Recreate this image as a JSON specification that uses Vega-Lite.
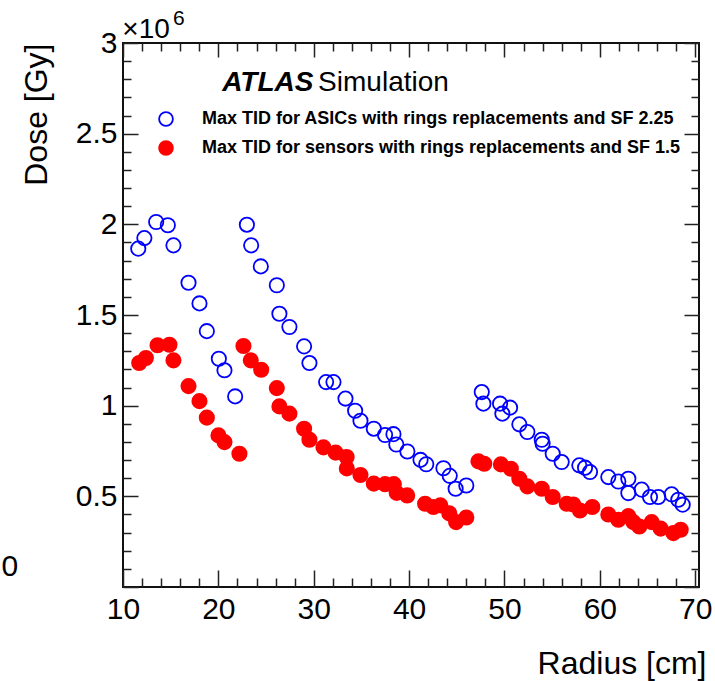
{
  "$schema": "https://vega.github.io/schema/vega-lite/v6.json",
  "autosize": {"type": "none"},
  "width": 576,
  "height": 544,
  "padding": {"left": 123, "top": 43, "right": 16, "bottom": 94},
  "background": "white",
  "config": {
    "view": {"stroke": "#111", "strokeWidth": 2},
    "font": "Liberation Sans",
    "axis": {"labelFont": "Liberation Sans", "titleFont": "Liberation Sans", "labelColor": "#000", "titleColor": "#000", "tickColor": "#222", "tickWidth": 1.5, "grid": false, "domain": false, "labelFlush": false, "labelOverlap": false},
    "legend": {"labelFont": "Liberation Sans"}
  },
  "resolve": {"axis": {"x": "independent", "y": "independent"}},
  "layer": [
    {
      "data": {"values": [
        {"series": "Max TID for ASICs with rings replacements and SF 2.25", "r": 11.6, "dose": 1866000},
        {"series": "Max TID for ASICs with rings replacements and SF 2.25", "r": 12.24, "dose": 1924000},
        {"series": "Max TID for ASICs with rings replacements and SF 2.25", "r": 13.48, "dose": 2013000},
        {"series": "Max TID for ASICs with rings replacements and SF 2.25", "r": 14.7, "dose": 1995000},
        {"series": "Max TID for ASICs with rings replacements and SF 2.25", "r": 15.29, "dose": 1884000},
        {"series": "Max TID for ASICs with rings replacements and SF 2.25", "r": 16.87, "dose": 1678000},
        {"series": "Max TID for ASICs with rings replacements and SF 2.25", "r": 18.02, "dose": 1564000},
        {"series": "Max TID for ASICs with rings replacements and SF 2.25", "r": 18.79, "dose": 1411000},
        {"series": "Max TID for ASICs with rings replacements and SF 2.25", "r": 20.05, "dose": 1259000},
        {"series": "Max TID for ASICs with rings replacements and SF 2.25", "r": 20.64, "dose": 1195000},
        {"series": "Max TID for ASICs with rings replacements and SF 2.25", "r": 21.76, "dose": 1051000},
        {"series": "Max TID for ASICs with rings replacements and SF 2.25", "r": 22.99, "dose": 1998000},
        {"series": "Max TID for ASICs with rings replacements and SF 2.25", "r": 23.44, "dose": 1884000},
        {"series": "Max TID for ASICs with rings replacements and SF 2.25", "r": 24.45, "dose": 1768000},
        {"series": "Max TID for ASICs with rings replacements and SF 2.25", "r": 26.13, "dose": 1664000},
        {"series": "Max TID for ASICs with rings replacements and SF 2.25", "r": 26.4, "dose": 1507000},
        {"series": "Max TID for ASICs with rings replacements and SF 2.25", "r": 27.45, "dose": 1434000},
        {"series": "Max TID for ASICs with rings replacements and SF 2.25", "r": 28.99, "dose": 1327000},
        {"series": "Max TID for ASICs with rings replacements and SF 2.25", "r": 29.55, "dose": 1235000},
        {"series": "Max TID for ASICs with rings replacements and SF 2.25", "r": 31.3, "dose": 1130000},
        {"series": "Max TID for ASICs with rings replacements and SF 2.25", "r": 32.07, "dose": 1130000},
        {"series": "Max TID for ASICs with rings replacements and SF 2.25", "r": 33.33, "dose": 1039000},
        {"series": "Max TID for ASICs with rings replacements and SF 2.25", "r": 34.34, "dose": 972000},
        {"series": "Max TID for ASICs with rings replacements and SF 2.25", "r": 34.9, "dose": 917000},
        {"series": "Max TID for ASICs with rings replacements and SF 2.25", "r": 36.3, "dose": 873000},
        {"series": "Max TID for ASICs with rings replacements and SF 2.25", "r": 37.48, "dose": 838000},
        {"series": "Max TID for ASICs with rings replacements and SF 2.25", "r": 38.36, "dose": 843000},
        {"series": "Max TID for ASICs with rings replacements and SF 2.25", "r": 38.66, "dose": 786000},
        {"series": "Max TID for ASICs with rings replacements and SF 2.25", "r": 39.82, "dose": 747000},
        {"series": "Max TID for ASICs with rings replacements and SF 2.25", "r": 41.2, "dose": 701000},
        {"series": "Max TID for ASICs with rings replacements and SF 2.25", "r": 41.8, "dose": 677000},
        {"series": "Max TID for ASICs with rings replacements and SF 2.25", "r": 43.6, "dose": 655000},
        {"series": "Max TID for ASICs with rings replacements and SF 2.25", "r": 44.26, "dose": 613000},
        {"series": "Max TID for ASICs with rings replacements and SF 2.25", "r": 44.88, "dose": 542000},
        {"series": "Max TID for ASICs with rings replacements and SF 2.25", "r": 46.0, "dose": 560000},
        {"series": "Max TID for ASICs with rings replacements and SF 2.25", "r": 47.62, "dose": 1075000},
        {"series": "Max TID for ASICs with rings replacements and SF 2.25", "r": 47.79, "dose": 1011000},
        {"series": "Max TID for ASICs with rings replacements and SF 2.25", "r": 49.54, "dose": 1011000},
        {"series": "Max TID for ASICs with rings replacements and SF 2.25", "r": 49.78, "dose": 956000},
        {"series": "Max TID for ASICs with rings replacements and SF 2.25", "r": 50.59, "dose": 989000},
        {"series": "Max TID for ASICs with rings replacements and SF 2.25", "r": 51.56, "dose": 897000},
        {"series": "Max TID for ASICs with rings replacements and SF 2.25", "r": 52.4, "dose": 855000},
        {"series": "Max TID for ASICs with rings replacements and SF 2.25", "r": 53.91, "dose": 812000},
        {"series": "Max TID for ASICs with rings replacements and SF 2.25", "r": 54.0, "dose": 790000},
        {"series": "Max TID for ASICs with rings replacements and SF 2.25", "r": 55.06, "dose": 735000},
        {"series": "Max TID for ASICs with rings replacements and SF 2.25", "r": 56.0, "dose": 689000},
        {"series": "Max TID for ASICs with rings replacements and SF 2.25", "r": 57.85, "dose": 671000},
        {"series": "Max TID for ASICs with rings replacements and SF 2.25", "r": 58.45, "dose": 658000},
        {"series": "Max TID for ASICs with rings replacements and SF 2.25", "r": 58.97, "dose": 634000},
        {"series": "Max TID for ASICs with rings replacements and SF 2.25", "r": 60.89, "dose": 606000},
        {"series": "Max TID for ASICs with rings replacements and SF 2.25", "r": 61.94, "dose": 582000},
        {"series": "Max TID for ASICs with rings replacements and SF 2.25", "r": 62.99, "dose": 597000},
        {"series": "Max TID for ASICs with rings replacements and SF 2.25", "r": 62.99, "dose": 518000},
        {"series": "Max TID for ASICs with rings replacements and SF 2.25", "r": 64.39, "dose": 537000},
        {"series": "Max TID for ASICs with rings replacements and SF 2.25", "r": 65.26, "dose": 496000},
        {"series": "Max TID for ASICs with rings replacements and SF 2.25", "r": 66.13, "dose": 496000},
        {"series": "Max TID for ASICs with rings replacements and SF 2.25", "r": 67.53, "dose": 511000},
        {"series": "Max TID for ASICs with rings replacements and SF 2.25", "r": 68.23, "dose": 481000},
        {"series": "Max TID for ASICs with rings replacements and SF 2.25", "r": 68.69, "dose": 454000},
        {"series": "Max TID for sensors with rings replacements and SF 1.5", "r": 11.7, "dose": 1235000},
        {"series": "Max TID for sensors with rings replacements and SF 1.5", "r": 12.4, "dose": 1263000},
        {"series": "Max TID for sensors with rings replacements and SF 1.5", "r": 13.62, "dose": 1333000},
        {"series": "Max TID for sensors with rings replacements and SF 1.5", "r": 14.87, "dose": 1336000},
        {"series": "Max TID for sensors with rings replacements and SF 1.5", "r": 15.29, "dose": 1250000},
        {"series": "Max TID for sensors with rings replacements and SF 1.5", "r": 16.87, "dose": 1108000},
        {"series": "Max TID for sensors with rings replacements and SF 1.5", "r": 18.02, "dose": 1025000},
        {"series": "Max TID for sensors with rings replacements and SF 1.5", "r": 18.79, "dose": 934000},
        {"series": "Max TID for sensors with rings replacements and SF 1.5", "r": 20.01, "dose": 836000},
        {"series": "Max TID for sensors with rings replacements and SF 1.5", "r": 20.64, "dose": 799000},
        {"series": "Max TID for sensors with rings replacements and SF 1.5", "r": 22.21, "dose": 735000},
        {"series": "Max TID for sensors with rings replacements and SF 1.5", "r": 22.63, "dose": 1329000},
        {"series": "Max TID for sensors with rings replacements and SF 1.5", "r": 23.4, "dose": 1250000},
        {"series": "Max TID for sensors with rings replacements and SF 1.5", "r": 24.49, "dose": 1198000},
        {"series": "Max TID for sensors with rings replacements and SF 1.5", "r": 26.13, "dose": 1097000},
        {"series": "Max TID for sensors with rings replacements and SF 1.5", "r": 26.4, "dose": 996000},
        {"series": "Max TID for sensors with rings replacements and SF 1.5", "r": 27.45, "dose": 956000},
        {"series": "Max TID for sensors with rings replacements and SF 1.5", "r": 28.99, "dose": 873000},
        {"series": "Max TID for sensors with rings replacements and SF 1.5", "r": 29.55, "dose": 812000},
        {"series": "Max TID for sensors with rings replacements and SF 1.5", "r": 31.02, "dose": 770000},
        {"series": "Max TID for sensors with rings replacements and SF 1.5", "r": 32.3, "dose": 741000},
        {"series": "Max TID for sensors with rings replacements and SF 1.5", "r": 33.45, "dose": 717000},
        {"series": "Max TID for sensors with rings replacements and SF 1.5", "r": 33.47, "dose": 654000},
        {"series": "Max TID for sensors with rings replacements and SF 1.5", "r": 34.9, "dose": 618000},
        {"series": "Max TID for sensors with rings replacements and SF 1.5", "r": 36.3, "dose": 570000},
        {"series": "Max TID for sensors with rings replacements and SF 1.5", "r": 37.48, "dose": 567000},
        {"series": "Max TID for sensors with rings replacements and SF 1.5", "r": 38.4, "dose": 567000},
        {"series": "Max TID for sensors with rings replacements and SF 1.5", "r": 38.7, "dose": 519000},
        {"series": "Max TID for sensors with rings replacements and SF 1.5", "r": 39.8, "dose": 505000},
        {"series": "Max TID for sensors with rings replacements and SF 1.5", "r": 41.68, "dose": 459000},
        {"series": "Max TID for sensors with rings replacements and SF 1.5", "r": 42.55, "dose": 441000},
        {"series": "Max TID for sensors with rings replacements and SF 1.5", "r": 43.28, "dose": 450000},
        {"series": "Max TID for sensors with rings replacements and SF 1.5", "r": 44.22, "dose": 406000},
        {"series": "Max TID for sensors with rings replacements and SF 1.5", "r": 44.93, "dose": 358000},
        {"series": "Max TID for sensors with rings replacements and SF 1.5", "r": 46.0, "dose": 383000},
        {"series": "Max TID for sensors with rings replacements and SF 1.5", "r": 47.27, "dose": 693000},
        {"series": "Max TID for sensors with rings replacements and SF 1.5", "r": 47.88, "dose": 680000},
        {"series": "Max TID for sensors with rings replacements and SF 1.5", "r": 49.63, "dose": 676000},
        {"series": "Max TID for sensors with rings replacements and SF 1.5", "r": 50.67, "dose": 652000},
        {"series": "Max TID for sensors with rings replacements and SF 1.5", "r": 51.56, "dose": 597000},
        {"series": "Max TID for sensors with rings replacements and SF 1.5", "r": 52.4, "dose": 555000},
        {"series": "Max TID for sensors with rings replacements and SF 1.5", "r": 53.91, "dose": 542000},
        {"series": "Max TID for sensors with rings replacements and SF 1.5", "r": 55.06, "dose": 496000},
        {"series": "Max TID for sensors with rings replacements and SF 1.5", "r": 56.53, "dose": 459000},
        {"series": "Max TID for sensors with rings replacements and SF 1.5", "r": 57.22, "dose": 455000},
        {"series": "Max TID for sensors with rings replacements and SF 1.5", "r": 57.92, "dose": 422000},
        {"series": "Max TID for sensors with rings replacements and SF 1.5", "r": 59.21, "dose": 441000},
        {"series": "Max TID for sensors with rings replacements and SF 1.5", "r": 60.89, "dose": 400000},
        {"series": "Max TID for sensors with rings replacements and SF 1.5", "r": 61.94, "dose": 371000},
        {"series": "Max TID for sensors with rings replacements and SF 1.5", "r": 62.99, "dose": 391000},
        {"series": "Max TID for sensors with rings replacements and SF 1.5", "r": 63.51, "dose": 358000},
        {"series": "Max TID for sensors with rings replacements and SF 1.5", "r": 64.14, "dose": 334000},
        {"series": "Max TID for sensors with rings replacements and SF 1.5", "r": 65.44, "dose": 358000},
        {"series": "Max TID for sensors with rings replacements and SF 1.5", "r": 66.38, "dose": 322000},
        {"series": "Max TID for sensors with rings replacements and SF 1.5", "r": 67.71, "dose": 297000},
        {"series": "Max TID for sensors with rings replacements and SF 1.5", "r": 68.48, "dose": 316000}
      ]},
      "mark": {"type": "point", "shape": "circle", "filled": true, "size": 205, "strokeWidth": 1.8, "opacity": 1},
      "encoding": {
        "x": {"field": "r", "type": "quantitative", "scale": {"domain": [10, 70.4], "nice": false, "zero": false},
          "axis": {"orient": "bottom", "values": [10, 20, 30, 40, 50, 60, 70], "ticks": false, "labelFontSize": 30, "labelPadding": 7,
            "title": "Radius [cm]", "titleFontSize": 32, "titleFontWeight": "normal", "titleX": 583, "titleY": 86, "titleAlign": "right", "titleBaseline": "alphabetic", "titleAnchor": "end"}},
        "y": {"field": "dose", "type": "quantitative", "scale": {"domain": [0, 3000000], "nice": false, "zero": false},
          "axis": {"orient": "left", "values": [500000, 1000000, 1500000, 2000000, 2500000, 3000000], "labelExpr": "'' + (datum.value / 1000000)", "ticks": false, "labelFontSize": 30, "labelPadding": 6,
            "title": "Dose [Gy]", "titleFontSize": 32, "titleFontWeight": "normal", "titleAngle": 270, "titleX": -77, "titleY": 0, "titleAlign": "right", "titleBaseline": "alphabetic", "titleAnchor": "end"}},
        "fill": {"field": "series", "type": "nominal",
          "scale": {"domain": ["Max TID for ASICs with rings replacements and SF 2.25", "Max TID for sensors with rings replacements and SF 1.5"], "range": ["transparent", "#ff0000"]},
          "legend": {"orient": "none", "legendX": 34, "legendY": 67, "title": null, "labelFontSize": 18, "labelFontWeight": "bold", "labelColor": "#000", "labelLimit": 700, "symbolSize": 190, "symbolStrokeWidth": 1.8, "symbolType": "circle", "labelOffset": 27, "rowPadding": 7}},
        "stroke": {"field": "series", "type": "nominal",
          "scale": {"domain": ["Max TID for ASICs with rings replacements and SF 2.25", "Max TID for sensors with rings replacements and SF 1.5"], "range": ["#0000ff", "#ff0000"]},
          "legend": {"orient": "none", "legendX": 34, "legendY": 67, "title": null, "labelFontSize": 18, "labelFontWeight": "bold", "labelColor": "#000", "labelLimit": 700, "symbolSize": 190, "symbolStrokeWidth": 1.8, "symbolType": "circle", "labelOffset": 27, "rowPadding": 7}}
      }
    },
    {
      "data": {"values": [{"label": "ATLAS", "r": 20.4, "dose": 2734000}]},
      "mark": {"type": "text", "align": "left", "baseline": "alphabetic", "fontSize": 28, "fontWeight": "bold", "fontStyle": "italic", "color": "#000"},
      "encoding": {
        "text": {"field": "label"},
        "x": {"field": "r", "type": "quantitative", "scale": {"domain": [10, 70.4], "nice": false, "zero": false},
          "axis": {"orient": "bottom", "values": [10, 20, 30, 40, 50, 60, 70], "labels": false, "ticks": true, "tickSize": -17, "title": null}},
        "y": {"field": "dose", "type": "quantitative", "scale": {"domain": [0, 3000000], "nice": false, "zero": false},
          "axis": {"orient": "left", "values": [0, 500000, 1000000, 1500000, 2000000, 2500000, 3000000], "labels": false, "ticks": true, "tickSize": -15, "title": null}}
      }
    },
    {
      "data": {"values": [{"label": "Simulation", "r": 30.46, "dose": 2734000}]},
      "mark": {"type": "text", "align": "left", "baseline": "alphabetic", "fontSize": 28, "color": "#000"},
      "encoding": {
        "text": {"field": "label"},
        "x": {"field": "r", "type": "quantitative", "scale": {"domain": [10, 70.4], "nice": false, "zero": false},
          "axis": {"orient": "bottom", "values": [12, 14, 16, 18, 22, 24, 26, 28, 32, 34, 36, 38, 42, 44, 46, 48, 52, 54, 56, 58, 62, 64, 66, 68], "labels": false, "ticks": true, "tickSize": -9, "title": null}},
        "y": {"field": "dose", "type": "quantitative", "scale": {"domain": [0, 3000000], "nice": false, "zero": false},
          "axis": {"orient": "left", "values": [100000, 200000, 300000, 400000, 600000, 700000, 800000, 900000, 1100000, 1200000, 1300000, 1400000, 1600000, 1700000, 1800000, 1900000, 2100000, 2200000, 2300000, 2400000, 2600000, 2700000, 2800000, 2900000], "labels": false, "ticks": true, "tickSize": -8, "title": null}}
      }
    },
    {
      "data": {"values": [{"label": "×10", "r": 9.93, "dose": 3026000}]},
      "mark": {"type": "text", "align": "left", "baseline": "alphabetic", "fontSize": 28, "color": "#000"},
      "encoding": {
        "text": {"field": "label"},
        "x": {"field": "r", "type": "quantitative", "scale": {"domain": [10, 70.4], "nice": false, "zero": false},
          "axis": {"orient": "top", "values": [10, 20, 30, 40, 50, 60, 70], "labels": false, "ticks": true, "tickSize": -14, "title": null}},
        "y": {"field": "dose", "type": "quantitative", "scale": {"domain": [0, 3000000], "nice": false, "zero": false},
          "axis": {"orient": "right", "values": [0, 500000, 1000000, 1500000, 2000000, 2500000, 3000000], "labels": false, "ticks": true, "tickSize": -15, "title": null}}
      }
    },
    {
      "data": {"values": [{"label": "6", "r": 15.25, "dose": 3098000}]},
      "mark": {"type": "text", "align": "left", "baseline": "alphabetic", "fontSize": 21, "color": "#000"},
      "encoding": {
        "text": {"field": "label"},
        "x": {"field": "r", "type": "quantitative", "scale": {"domain": [10, 70.4], "nice": false, "zero": false},
          "axis": {"orient": "top", "values": [12, 14, 16, 18, 22, 24, 26, 28, 32, 34, 36, 38, 42, 44, 46, 48, 52, 54, 56, 58, 62, 64, 66, 68], "labels": false, "ticks": true, "tickSize": -8, "title": null}},
        "y": {"field": "dose", "type": "quantitative", "scale": {"domain": [0, 3000000], "nice": false, "zero": false},
          "axis": {"orient": "right", "values": [100000, 200000, 300000, 400000, 600000, 700000, 800000, 900000, 1100000, 1200000, 1300000, 1400000, 1600000, 1700000, 1800000, 1900000, 2100000, 2200000, 2300000, 2400000, 2600000, 2700000, 2800000, 2900000], "labels": false, "ticks": true, "tickSize": -8, "title": null}}
      }
    },
    {
      "data": {"values": [{"label": "0", "r": -2.75, "dose": 110000}]},
      "mark": {"type": "text", "align": "left", "baseline": "middle", "fontSize": 30, "color": "#000"},
      "encoding": {
        "text": {"field": "label"},
        "x": {"field": "r", "type": "quantitative", "scale": {"domain": [10, 70.4], "nice": false, "zero": false}, "axis": null},
        "y": {"field": "dose", "type": "quantitative", "scale": {"domain": [0, 3000000], "nice": false, "zero": false}, "axis": null}
      }
    }
  ]
}
